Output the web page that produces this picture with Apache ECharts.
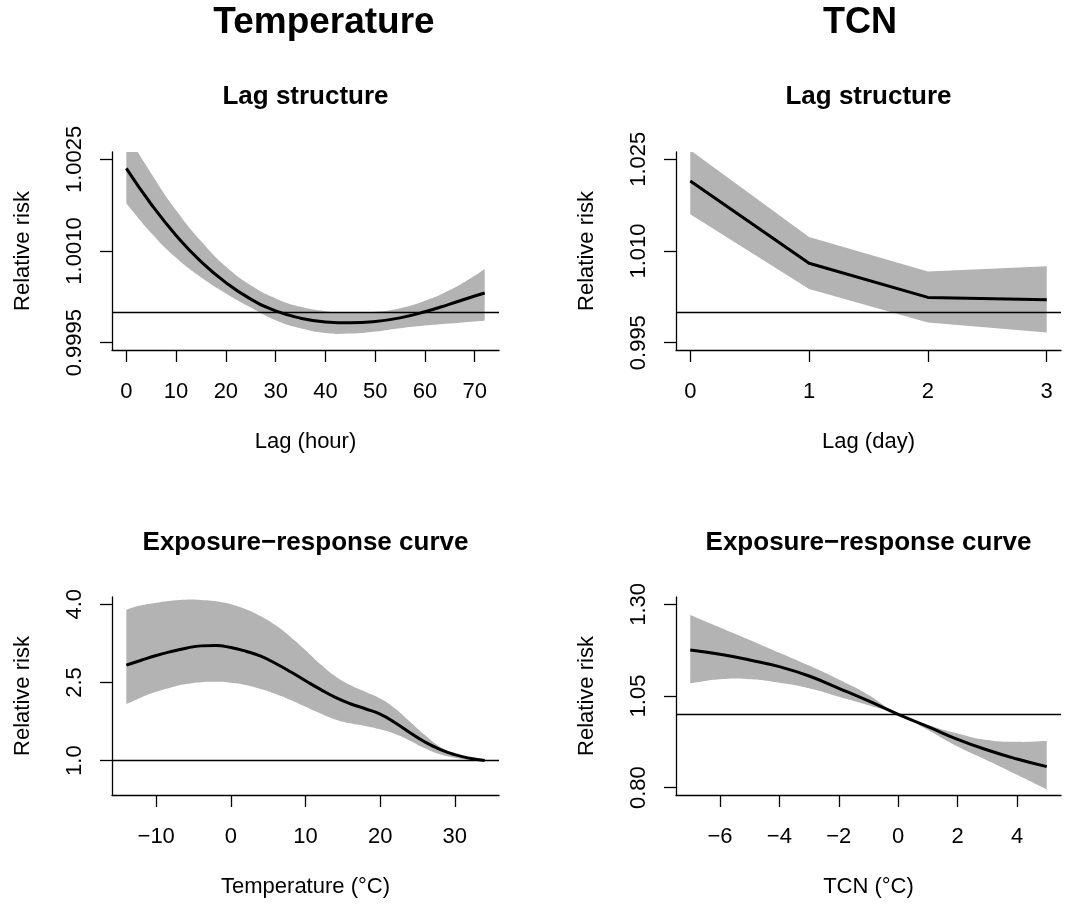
<!DOCTYPE html>
<html>
<head>
<meta charset="utf-8">
<script src="https://cdn.jsdelivr.net/npm/echarts@6/dist/echarts.min.js"></script>
<style>
  html, body { margin: 0; background: #fff; }
  #chart { width: 1083px; height: 904px; }
</style>
</head>
<body>
<div id="chart"></div>
<script>
// ---- Temperature: lag structure (hour)
const lagHour = [0, 5, 10, 15, 20, 25, 30, 35, 40, 45, 50, 55, 60, 65, 70, 72]
const lagHourFit = [1.002352, 1.001765, 1.001255, 1.000827, 1.000482, 1.000213, 1.000021, 0.999901,
  0.999840, 0.999824, 0.999846, 0.999906, 1.000005, 1.000131, 1.000263, 1.000312]
const lagHourUpper = [1.002928, 1.002270, 1.001666, 1.001162, 1.000745, 1.000438, 1.000224, 1.000087,
  1.000016, 0.999988, 1.000005, 1.000065, 1.000186, 1.000361, 1.000597, 1.000707]
const lagHourLower = [1.001776, 1.001294, 1.000888, 1.000570, 1.000306, 1.000076, 0.999868, 0.999736,
  0.999659, 0.999648, 0.999681, 0.999736, 0.999780, 0.999813, 0.999846, 0.999857]
const lagHourTicks = [0, 10, 20, 30, 40, 50, 60, 70]
const rrHourTicks = [0.9995, 1.0010, 1.0025]

// ---- TCN: lag structure (day)
const lagDay = [0, 1, 2, 3]
const lagDayFit = [1.02144, 1.00800, 1.00241, 1.00202]
const lagDayUpper = [1.02650, 1.01228, 1.00663, 1.00751]
const lagDayLower = [1.01601, 1.00378, 0.99829, 0.99665]
const lagDayTicks = [0, 1, 2, 3]
const rrDayTicks = [0.995, 1.010, 1.025]

// ---- Temperature: exposure-response
const temp = [-14, -12, -10, -8, -6, -4, -2, 0, 2, 4, 6, 8, 10, 12, 14, 16, 18, 20, 22, 24, 26, 28, 30, 32, 34]
const tempFit = [2.832, 2.927, 3.017, 3.093, 3.157, 3.202, 3.208, 3.170, 3.100, 3.004, 2.863, 2.704, 2.532,
  2.366, 2.213, 2.091, 1.996, 1.893, 1.727, 1.536, 1.357, 1.217, 1.115, 1.045, 1.0]
const tempUpper = [3.897, 3.980, 4.031, 4.070, 4.089, 4.082, 4.057, 3.999, 3.904, 3.770, 3.597, 3.374, 3.119,
  2.851, 2.621, 2.449, 2.321, 2.193, 2.002, 1.747, 1.491, 1.268, 1.128, 1.045, 1.0]
const tempLower = [2.085, 2.213, 2.321, 2.404, 2.468, 2.506, 2.512, 2.493, 2.449, 2.372, 2.276, 2.161, 2.034,
  1.906, 1.791, 1.715, 1.664, 1.600, 1.511, 1.383, 1.236, 1.121, 1.057, 1.019, 1.0]
const tempTicks = [-10, 0, 10, 20, 30]
const rrTempTicks = [1.0, 2.5, 4.0]

// ---- TCN: exposure-response
const tcn = [-7, -6, -5, -4, -3, -2, -1, 0, 1, 2, 3, 4, 5]
const tcnFit = [1.1754, 1.1636, 1.1482, 1.1300, 1.1045, 1.0709, 1.0364, 1.0, 0.9664, 0.9318, 0.9027, 0.8782, 0.8573]
const tcnUpper = [1.271, 1.237, 1.203, 1.168, 1.133, 1.095, 1.053, 1.0, 0.971, 0.948, 0.930, 0.925, 0.927]
const tcnLower = [1.0845, 1.0955, 1.0955, 1.086, 1.071, 1.048, 1.025, 1.0, 0.957, 0.912, 0.874, 0.835, 0.795]
const tcnTicks = [-6, -4, -2, 0, 2, 4]
const rrTcnTicks = [0.80, 1.05, 1.30]

const FONT = 'Liberation Sans, Arial, Helvetica, sans-serif'
const pairs = (xs, ys) => xs.map((x, i) => [x, ys[i]])
const minus = v => (v < 0 ? '\u2212' + Math.abs(v) : String(v))

const chart = echarts.init(document.getElementById('chart'))

// 面板布局（绘图区）
const grids = [
  { left: 112, top: 152, width: 387, height: 198 },
  { left: 676, top: 152, width: 385, height: 198 },
  { left: 112, top: 597, width: 387, height: 198 },
  { left: 676, top: 597, width: 385, height: 198 }
]

function xAxis(i, min, max, ticks, name) {
  return {
    type: 'value', gridIndex: i, min, max,
    name, nameLocation: 'middle', nameGap: 81,
    nameTextStyle: { fontSize: 22, fontFamily: FONT, color: '#000' },
    axisLine: { onZero: false, lineStyle: { color: '#000', width: 1.3 } },
    axisTick: { customValues: ticks, length: 12, lineStyle: { color: '#000', width: 1.3 } },
    axisLabel: { customValues: ticks, formatter: minus, margin: 31, fontSize: 22, fontFamily: FONT, color: '#000' },
    splitLine: { show: false }
  }
}

function yAxis(i, min, max, ticks, digits) {
  return {
    type: 'value', gridIndex: i, min, max,
    name: 'Relative risk', nameLocation: 'middle', nameGap: 78,
    nameTextStyle: { fontSize: 22, fontFamily: FONT, color: '#000' },
    axisLine: { onZero: false, lineStyle: { color: '#000', width: 1.3 } },
    axisTick: { customValues: ticks, length: 12, lineStyle: { color: '#000', width: 1.3 } },
    axisLabel: { customValues: ticks, rotate: 90, margin: 26, fontSize: 22, fontFamily: FONT, color: '#000',
      formatter: v => v.toFixed(digits) },
    splitLine: { show: false }
  }
}

// 置信区间：上下界围成的多边形（端点重复，保持左右两边为直边）
function bandSeries(i, xs, upper, lower, smooth) {
  return {
    type: 'custom', xAxisIndex: i, yAxisIndex: i, clip: true, silent: true, z: 1,
    data: [[xs[0], lower[0]]],
    renderItem: (params, api) => {
      const top = xs.map((x, k) => api.coord([x, upper[k]]))
      const bottom = xs.map((x, k) => api.coord([x, lower[k]])).reverse()
      const n = top.length
      const points = [top[0]].concat(top, [top[n - 1]], [bottom[0]], bottom, [bottom[n - 1]])
      return { type: 'polygon', shape: { points, smooth }, style: { fill: '#b3b3b3' } }
    }
  }
}

function fitSeries(i, xs, fit, smooth) {
  return {
    type: 'line', xAxisIndex: i, yAxisIndex: i, symbol: 'none', smooth, silent: true, z: 3,
    data: pairs(xs, fit), lineStyle: { color: '#000', width: 3 },
    markLine: { silent: true, symbol: 'none', label: { show: false },
      lineStyle: { color: '#000', width: 1.3, type: 'solid' }, data: [{ yAxis: 1 }] }
  }
}

function label(text, x, y, size) {
  return { type: 'text', x, y, silent: true,
    style: { text, fill: '#000', fontSize: size, fontWeight: 'bold', fontFamily: FONT,
      align: 'center', verticalAlign: 'middle' } }
}

const option = {
  animation: false,
  backgroundColor: '#fff',
  grid: grids,
  xAxis: [
    xAxis(0, -2.88, 74.88, lagHourTicks, 'Lag (hour)'),
    xAxis(1, -0.12, 3.12, lagDayTicks, 'Lag (day)'),
    xAxis(2, -15.92, 35.92, tempTicks, 'Temperature (°C)'),
    xAxis(3, -7.48, 5.48, tcnTicks, 'TCN (°C)')
  ],
  yAxis: [
    yAxis(0, 0.99938, 1.00262, rrHourTicks, 4),
    yAxis(1, 0.9938, 1.0262, rrDayTicks, 3),
    yAxis(2, 0.34, 4.14, rrTempTicks, 1),
    yAxis(3, 0.78, 1.32, rrTcnTicks, 2)
  ],
  series: [
    bandSeries(0, lagHour, lagHourUpper, lagHourLower, 0.5),
    fitSeries(0, lagHour, lagHourFit, true),
    bandSeries(1, lagDay, lagDayUpper, lagDayLower, 0),
    fitSeries(1, lagDay, lagDayFit, false),
    bandSeries(2, temp, tempUpper, tempLower, 0.5),
    fitSeries(2, temp, tempFit, true),
    bandSeries(3, tcn, tcnUpper, tcnLower, 0.5),
    fitSeries(3, tcn, tcnFit, true)
  ],
  graphic: [
    label('Temperature', 324, 23, 37),
    label('TCN', 860, 23, 36),
    label('Lag structure', 305.5, 97, 26),
    label('Lag structure', 868.5, 97, 26),
    label('Exposure\u2212response curve', 305.5, 543, 26),
    label('Exposure\u2212response curve', 868.5, 543, 26)
  ]
}

chart.setOption(option)
</script>
</body>
</html>
